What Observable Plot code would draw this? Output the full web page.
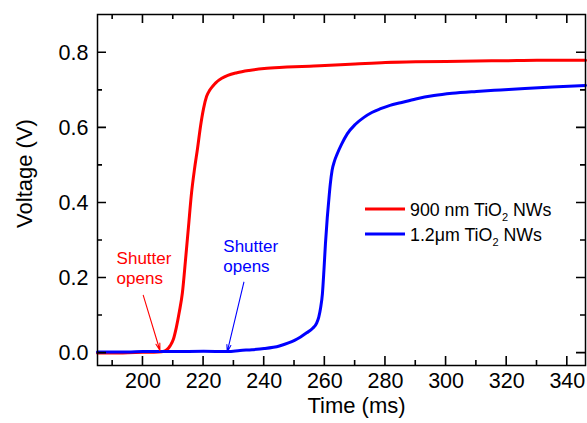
<!DOCTYPE html>
<html>
<head>
<meta charset="utf-8">
<script src="https://cdn.jsdelivr.net/npm/d3@7"></script>
<script src="https://cdn.jsdelivr.net/npm/@observablehq/plot@0.6"></script>
<style>
  body { margin: 0; background: #fff; }
  #chart { width: 587px; height: 423px; }
</style>
</head>
<body>
<div id="chart"></div>
<script>
// ---- Data ----
const redTime = [185, 190, 195, 200, 205, 207, 208, 209, 210, 211, 212, 213, 214, 215, 216, 217, 218, 219, 220, 221, 222, 223, 224, 226, 228, 231, 235, 240, 245, 250, 255, 260, 270, 280, 290, 300, 310, 320, 330, 340, 346];
const redVoltage = [0.000, 0.000, 0.001, 0.002, 0.003, 0.005, 0.010, 0.020, 0.036, 0.068, 0.110, 0.160, 0.245, 0.335, 0.425, 0.49, 0.545, 0.605, 0.652, 0.684, 0.700, 0.711, 0.720, 0.732, 0.740, 0.747, 0.753, 0.758, 0.761, 0.763, 0.764, 0.766, 0.770, 0.774, 0.776, 0.777, 0.778, 0.779, 0.780, 0.780, 0.780];

const blueTime = [185, 190, 195, 200, 210, 220, 228, 232, 236, 240, 245, 248, 250, 252, 254, 256, 257.3, 258, 258.6, 259.2, 259.7, 260.2, 260.8, 261.3, 261.8, 262.4, 263.2, 264.1, 265.5, 267.4, 270, 272.9, 275.5, 278.4, 281.5, 285, 290, 296, 302, 310, 318, 326, 335, 346];
const blueVoltage = [0.003, 0.003, 0.003, 0.004, 0.004, 0.005, 0.004, 0.007, 0.009, 0.012, 0.019, 0.027, 0.034, 0.043, 0.054, 0.066, 0.080, 0.096, 0.120, 0.158, 0.220, 0.291, 0.360, 0.407, 0.450, 0.487, 0.512, 0.531, 0.556, 0.584, 0.609, 0.628, 0.641, 0.651, 0.660, 0.667, 0.677, 0.686, 0.692, 0.697, 0.701, 0.705, 0.709, 0.713];

const seriesLabels = ["900 nm TiO|2| NWs", "1.2\u03bcm TiO|2| NWs"];
const seriesColors = ["#ff0000", "#0000ff"];

const xDomain = [185, 346];
const yDomain = [-0.033, 0.902];
const xTicks = [200, 220, 240, 260, 280, 300, 320, 340];
const xMinorTicks = [190, 210, 230, 250, 270, 290, 310, 330];
const yTicks = [0.0, 0.2, 0.4, 0.6, 0.8];
const yMinorTicks = [0.1, 0.3, 0.5, 0.7];

// annotations: "Shutter opens" labels and arrows (data coordinates)
const annotationText = ["Shutter\nopens", "Shutter\nopens"];
const annotationTextTime = [191.3, 226.5];
const annotationTextVoltage = [0.276, 0.308];
const arrowStartTime = [200.1, 233.3];
const arrowStartVoltage = [0.154, 0.189];
const arrowEndTime = [205.6, 227.8];
const arrowEndVoltage = [0.007, 0.003];

// ---- Build tables ----
const red = redTime.map((t, i) => ({t, v: redVoltage[i]}));
const blue = blueTime.map((t, i) => ({t, v: blueVoltage[i]}));
const annotations = annotationText.map((label, i) => ({
  label, color: seriesColors[i],
  tx: annotationTextTime[i], ty: annotationTextVoltage[i],
  x1: arrowStartTime[i], y1: arrowStartVoltage[i],
  x2: arrowEndTime[i], y2: arrowEndVoltage[i]
}));

const FONT = "'Liberation Sans', Arial, Helvetica, sans-serif";
const W = 587, H = 423, ML = 97, MR = 2, MT = 14, MB = 58;
const innerW = W - ML - MR, innerH = H - MT - MB;
const MAJOR = 9, MINOR = 5;

const plot = Plot.plot({
  width: W,
  height: H,
  marginLeft: ML,
  marginRight: MR,
  marginTop: MT,
  marginBottom: MB,
  style: {fontFamily: FONT, background: "#fff", color: "black"},
  x: {domain: xDomain},
  y: {domain: yDomain},
  marks: [
    // curves
    Plot.line(red, {x: "t", y: "v", stroke: seriesColors[0], strokeWidth: 3, curve: "monotone-x"}),
    Plot.line(blue, {x: "t", y: "v", stroke: seriesColors[1], strokeWidth: 3, curve: "monotone-x"}),
    // annotations
    Plot.text(annotations, {x: "tx", y: "ty", text: "label", fill: "color", textAnchor: "start", lineAnchor: "top", fontSize: 17, lineHeight: 1.18}),
    Plot.arrow(annotations, {x1: "x1", y1: "y1", x2: "x2", y2: "y2", stroke: "color", strokeWidth: 1.1, headLength: 10, headAngle: 32}),
    // frame
    Plot.frame({stroke: "black", strokeWidth: 1.5}),
    // tick labels
    Plot.axisX({ticks: xTicks, tickSize: 0, tickPadding: 7, fontSize: 21.5, label: null}),
    Plot.axisY({ticks: yTicks, tickSize: 0, tickPadding: 9, fontSize: 21.5, label: null, tickFormat: d3.format(".1f")}),
    // x axis title
    Plot.text(["Time (ms)"], {frameAnchor: "bottom", dy: 47, dx: 15, fontSize: 22, fill: "black"})
  ]
});

document.getElementById("chart").appendChild(plot);

const svg = d3.select(plot);
const xs = plot.scale("x"), ys = plot.scale("y");

// inward ticks on all four sides, placed through Plot's own scales
const ticksG = svg.append("g")
  .attr("fill", "none")
  .attr("stroke", "#000")
  .attr("stroke-width", 1.6);
const yBottom = MT + innerH, yTop = MT, xLeft = ML, xRight = W - MR;
const tickPath = [];
[[xTicks, MAJOR], [xMinorTicks, MINOR]].forEach(([arr, len]) => {
  arr.forEach(v => {
    const px = xs.apply(v);
    tickPath.push(`M${px},${yBottom}V${yBottom - len}`);
    tickPath.push(`M${px},${yTop}V${yTop + len}`);
  });
});
[[yTicks, MAJOR], [yMinorTicks, MINOR]].forEach(([arr, len]) => {
  arr.forEach(v => {
    const py = ys.apply(v);
    tickPath.push(`M${xLeft},${py}H${xLeft + len}`);
    tickPath.push(`M${xRight},${py}H${xRight - len}`);
  });
});
ticksG.append("path").attr("d", tickPath.join(""));

// y axis title
svg.append("text")
  .attr("transform", `translate(24,${MT + innerH / 2 - 16}) rotate(-90)`)
  .attr("text-anchor", "middle")
  .attr("dominant-baseline", "central")
  .attr("font-family", FONT)
  .attr("font-size", 22)
  .attr("fill", "black")
  .text("Voltage (V)");

// ---- Legend (inside the plot area, top-right) ----
const legend = svg.append("g")
  .attr("font-family", FONT).attr("font-size", 17.8)
  .attr("fill", "black").attr("text-anchor", "start");
seriesLabels.forEach((lab, i) => {
  const cy = 209 + i * 25;
  legend.append("line")
    .attr("x1", 365).attr("x2", 405).attr("y1", cy).attr("y2", cy)
    .attr("stroke", seriesColors[i]).attr("stroke-width", 3);
  const parts = lab.split("|");
  const txt = legend.append("text").attr("x", 410).attr("y", cy + 6.5).attr("text-anchor", "start");
  txt.append("tspan").text(parts[0]);
  txt.append("tspan").attr("font-size", 11).attr("dy", 5).text(parts[1]);
  txt.append("tspan").attr("dy", -5).text(parts[2]);
});
</script>
</body>
</html>
